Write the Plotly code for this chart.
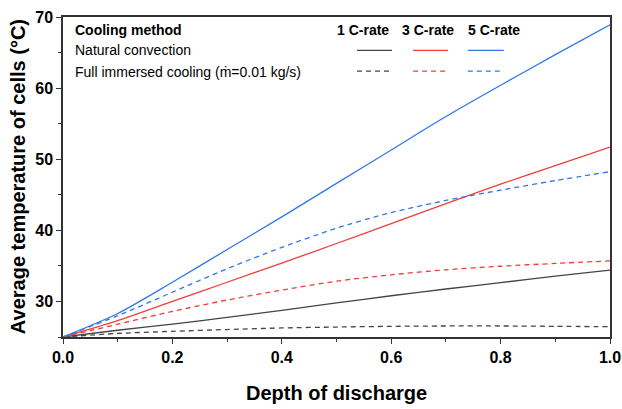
import plotly.graph_objects as go

dod = [0.0, 0.1, 0.2, 0.3, 0.4, 0.5, 0.6, 0.7, 0.8, 0.9, 1.0]

nat_1c = [25.0, 25.95, 26.8, 27.75, 28.75, 29.8, 30.8, 31.75, 32.65, 33.55, 34.4]
nat_3c = [25.0, 27.3, 30.0, 32.7, 35.4, 38.15, 40.95, 43.75, 46.5, 49.1, 51.7]
nat_5c = [25.0, 28.3, 32.7, 37.3, 41.9, 46.6, 51.3, 56.0, 60.4, 64.7, 68.9]

imm_1c = [25.0, 25.5, 25.8, 26.05, 26.27, 26.4, 26.5, 26.55, 26.55, 26.5, 26.45]
imm_3c = [25.0, 26.8, 28.6, 30.2, 31.6, 32.85, 33.75, 34.45, 34.95, 35.35, 35.7]
imm_5c = [25.0, 28.0, 31.3, 34.6, 37.6, 40.3, 42.5, 44.2, 45.65, 47.0, 48.25]

rate_labels = ["1 C-rate", "3 C-rate", "5 C-rate"]
colors = ["#444444", "#f03c3c", "#2f78ea"]
method_labels = ["Natural convection", "Full immersed cooling (ṁ=0.01 kg/s)"]

fig = go.Figure()
for ys, c, lab in zip([nat_1c, nat_3c, nat_5c], colors, rate_labels):
    fig.add_trace(go.Scatter(x=dod, y=ys, mode="lines", name=lab + " natural",
                             line=dict(color=c, width=1.3, shape="spline", smoothing=0.8),
                             showlegend=False))
for ys, c, lab in zip([imm_1c, imm_3c, imm_5c], colors, rate_labels):
    fig.add_trace(go.Scatter(x=dod, y=ys, mode="lines", name=lab + " immersed",
                             line=dict(color=c, width=1.3, dash="5px,4px", shape="spline", smoothing=0.8),
                             showlegend=False))

font_fam = "Liberation Sans, Arial, sans-serif"
axis_common = dict(showline=True, mirror=True, linecolor="#333333", linewidth=1.5,
                   ticks="outside", ticklen=5, tickwidth=1.2, tickcolor="#333333",
                   showgrid=False, zeroline=False, automargin=False,
                   tickfont=dict(family=font_fam, size=16, color="black", weight="bold"))

fig.update_layout(
    width=622, height=409, autosize=False,
    margin=dict(l=63, r=12, t=17, b=72),
    paper_bgcolor="white", plot_bgcolor="white",
    xaxis=dict(range=[0, 1], dtick=0.2, tickformat=".1f",
               minor=dict(dtick=0.1, ticks="outside", ticklen=3, tickcolor="#333333"),
               **axis_common),
    yaxis=dict(range=[25, 70], tickvals=[30, 40, 50, 60, 70],
               minor=dict(tickvals=[25, 35, 45, 55, 65], ticks="outside", ticklen=3, tickcolor="#333333"),
               **axis_common),
    showlegend=False,
)

ann = []
ann.append(dict(text="Depth of discharge", x=0.5, y=-0.175, xref="paper", yref="paper",
                xanchor="center", yanchor="middle", showarrow=False,
                font=dict(family=font_fam, size=20, color="black", weight="bold")))
ann.append(dict(text="Average temperature of cells (°C)", x=-0.082, y=0.5, xref="paper", yref="paper",
                xanchor="center", yanchor="middle", textangle=-90, showarrow=False,
                font=dict(family=font_fam, size=20, color="black", weight="bold")))
ann.append(dict(text="Cooling method", x=0.018, y=0.959, xref="paper", yref="paper",
                xanchor="left", yanchor="middle", showarrow=False,
                font=dict(family=font_fam, size=14, color="black", weight="bold")))
for lab, yy in zip(method_labels, [0.897, 0.828]):
    ann.append(dict(text=lab, x=0.018, y=yy, xref="paper", yref="paper",
                    xanchor="left", yanchor="middle", showarrow=False,
                    font=dict(family=font_fam, size=14, color="black")))
header_x = [0.548, 0.667, 0.788]
for lab, xx in zip(rate_labels, header_x):
    ann.append(dict(text=lab, x=xx, y=0.959, xref="paper", yref="paper",
                    xanchor="center", yanchor="middle", showarrow=False,
                    font=dict(family=font_fam, size=14, color="black", weight="bold")))
fig.update_layout(annotations=ann)

sample_x = [(0.5375, 0.6015), (0.640, 0.704), (0.740, 0.806)]
shapes = []
for (x0, x1), c in zip(sample_x, colors):
    shapes.append(dict(type="line", xref="paper", yref="paper", x0=x0, x1=x1, y0=0.896, y1=0.896,
                       line=dict(color=c, width=1.3)))
    shapes.append(dict(type="line", xref="paper", yref="paper", x0=x0, x1=x1, y0=0.831, y1=0.831,
                       line=dict(color=c, width=1.3, dash="5px,4px")))
fig.update_layout(shapes=shapes)

fig.write_html("out.html")
